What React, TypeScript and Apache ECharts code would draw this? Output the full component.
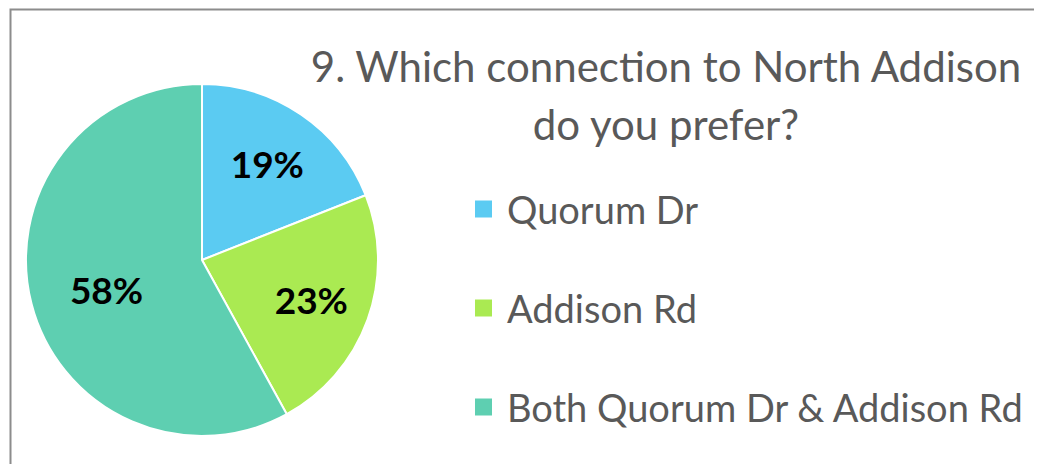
import React, { useEffect, useRef } from "react";
import * as echarts from "echarts";

const categories = ["Quorum Dr", "Addison Rd", "Both Quorum Dr & Addison Rd"];
const values = [19, 23, 58];
const colors = ["#5BCBF2", "#AAEA52", "#5ECFB1"];
const titleText = "9. Which connection to North Addison\ndo you prefer?";

export default function App() {
  const ref = useRef<HTMLDivElement>(null);
  useEffect(() => {
    if (!ref.current) return;
    const chart = echarts.init(ref.current, null, { renderer: "svg" });
    const cx = 194;
    const cy = 252;
    const r = 176;
    const labelFactor = [0.66, 0.66, 0.56];
    const total = values.reduce((a, b) => a + b, 0);
    const cum: number[] = [];
    values.reduce((acc, v, i) => {
      cum[i] = acc;
      return acc + v;
    }, 0);
    chart.setOption({
      animation: false,
      color: colors,
      title: {
        text: titleText,
        left: 653,
        top: 24,
        textAlign: "center",
        textStyle: {
          fontFamily: "Lato",
          fontWeight: "normal",
          fontSize: 42,
          lineHeight: 58,
          color: "#595959",
        },
      },
      legend: {
        orient: "vertical",
        left: 465,
        top: 182,
        padding: 0,
        icon: "rect",
        itemWidth: 19,
        itemHeight: 19,
        itemGap: 61,
        textStyle: {
          fontFamily: "Lato",
          fontSize: 38,
          color: "#595959",
          padding: [0, 0, 0, 9],
        },
        data: categories,
      },
      graphic: [
        {
          type: "rect",
          left: 0,
          top: -1,
          shape: { width: 1100, height: 520 },
          style: { fill: "none", stroke: "#8c8c8c", lineWidth: 2 },
          silent: true,
        },
      ],
      series: [
        {
          type: "pie",
          center: [cx, cy],
          radius: r,
          startAngle: 90,
          clockwise: true,
          itemStyle: { borderColor: "#ffffff", borderWidth: 2 },
          label: {
            show: true,
            position: "inside",
            formatter: "{c}%",
            fontFamily: "Lato",
            fontWeight: "bold",
            fontSize: 37,
            color: "#000000",
          },
          labelLine: { show: false },
          labelLayout: (params: any) => {
            const i = params.dataIndex;
            const mid = ((cum[i] + values[i] / 2) / total) * Math.PI * 2;
            const R = r * labelFactor[i];
            return {
              x: cx + R * Math.sin(mid),
              y: cy - R * Math.cos(mid) + (i === 2 ? 5 : 0),
              align: "center",
              verticalAlign: "middle",
            };
          },
          data: categories.map((name, i) => ({ name, value: values[i] })),
        },
      ],
    });
    return () => chart.dispose();
  }, []);
  return <div ref={ref} style={{ width: 1034, height: 456 }} />;
}
